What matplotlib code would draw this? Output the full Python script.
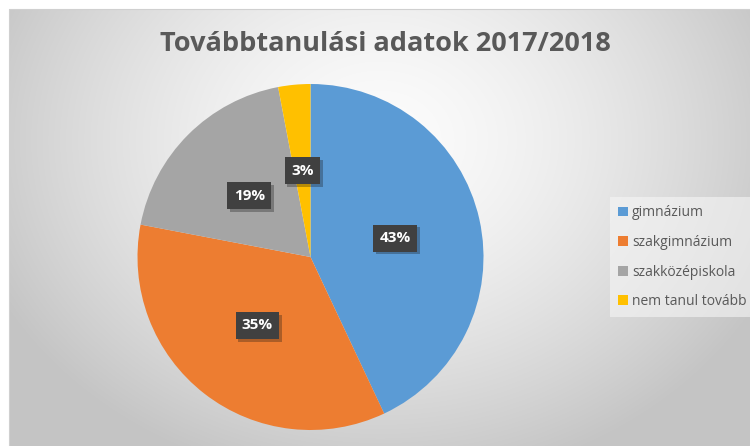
import numpy as np
import matplotlib
matplotlib.use("Agg")
import matplotlib.pyplot as plt
from matplotlib.patches import Rectangle
import matplotlib.patheffects as pe

title = "Továbbtanulási adatok 2017/2018"
categories = ["gimnázium", "szakgimnázium", "szakközépiskola", "nem tanul tovább"]
values = [43, 35, 19, 3]
colors = ["#5B9BD5", "#ED7D31", "#A5A5A5", "#FFC000"]

W, H = 750, 446
fig = plt.figure(figsize=(W / 100, H / 100), dpi=100)
fig.patch.set_facecolor("white")

# background gradient (chart area)
bg = fig.add_axes([0, 0, 1, 1], zorder=0)
bg.set_axis_off()
yy, xx = np.mgrid[0:H, 0:W]
d = np.sqrt(((xx - 380) / 430.0) ** 2 + ((yy - 140) / 350.0) ** 2)
d = np.clip(d, 0, 1)
g = (252 - 56 * d ** 1.5) / 255.0
img = np.dstack([g, g, g])
img[:9, :, :] = 1.0
img[:, :9, :] = 1.0
bg.imshow(img, extent=[0, W, H, 0], aspect="auto", interpolation="bilinear")
bg.set_xlim(0, W)
bg.set_ylim(H, 0)
bg.add_patch(Rectangle((9, 9), W - 9, H - 9, fill=False, edgecolor="#d0d0d0", lw=0.8))

# pie
ax = fig.add_axes([137 / W, 1 - 430 / H, 347 / W, 346 / H], zorder=1)
wedges, texts, autotexts = ax.pie(
    values, colors=colors, startangle=90, counterclock=False,
    autopct=lambda p: f"{p:.0f}%", pctdistance=0.5, radius=1.0,
    wedgeprops=dict(linewidth=0),
    textprops=dict(color="white", fontsize=11, fontweight="bold", family="Open Sans"),
)
for t in autotexts:
    t.set_bbox(dict(boxstyle="square,pad=0.42", facecolor="#404040", edgecolor="none"))
    t.get_bbox_patch().set_path_effects([pe.withSimplePatchShadow(offset=(2, -2), alpha=0.3)])
ax.set_xlim(-1, 1)
ax.set_ylim(-1, 1)
ax.set_aspect("equal")
ax.set_axis_off()

fig.text(385 / W, 1 - 44 / H, title, ha="center", va="center",
         fontsize=19.5, fontweight="bold", color="#595959", family="Open Sans", zorder=3)

# legend
leg = ax.legend(wedges, categories, loc="upper left",
                bbox_to_anchor=(610 / W, 1 - 197 / H), bbox_transform=fig.transFigure,
                frameon=True, fancybox=False, framealpha=0.6, facecolor="#f6f6f6",
                edgecolor="none", handlelength=0.7, handleheight=0.7, handletextpad=0.3,
                labelspacing=1.05, borderpad=0.6, borderaxespad=0,
                prop=dict(family="Open Sans", size=10))
for t in leg.get_texts():
    t.set_color("#595959")

fig.savefig("out.png", dpi=100)
